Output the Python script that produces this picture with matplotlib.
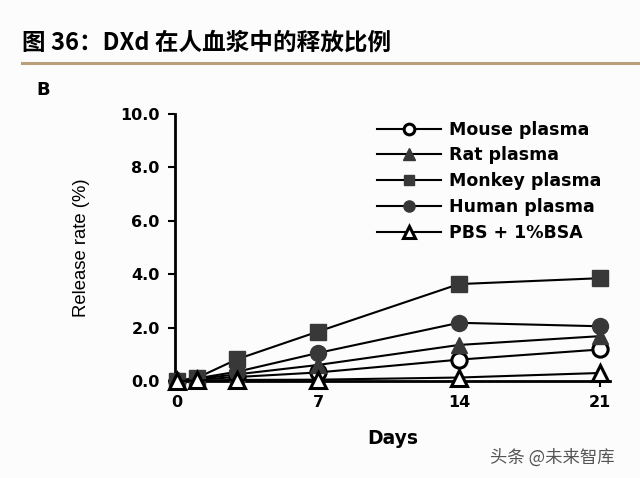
import matplotlib
matplotlib.use("Agg")
import matplotlib.pyplot as plt
from matplotlib.lines import Line2D

days = [0, 1, 3, 7, 14, 21]
mouse = [0.0, 0.05, 0.15, 0.32, 0.8, 1.18]
rat = [0.0, 0.08, 0.25, 0.6, 1.35, 1.68]
monkey = [0.0, 0.12, 0.82, 1.85, 3.63, 3.85]
human = [0.0, 0.1, 0.35, 1.05, 2.18, 2.05]
pbs = [0.0, 0.02, 0.04, 0.05, 0.13, 0.3]

labels = ["Mouse plasma", "Rat plasma", "Monkey plasma", "Human plasma", "PBS + 1%BSA"]
yticks = [0, 2, 4, 6, 8, 10]
xticks = [0, 7, 14, 21]

bg = "#fcfcfd"
fill = "#383838"
fig = plt.figure(figsize=(6.4, 4.78), dpi=100, facecolor=bg)

# header
fig.text(22 / 640, 1 - 43 / 478, "图 36：DXd 在人血浆中的释放比例", fontsize=17, fontweight="bold",
         family=["Noto Sans CJK SC", "DejaVu Sans"], va="center", ha="left")
fig.add_artist(Line2D([22 / 640, 1], [1 - 63 / 478, 1 - 63 / 478], color="#b8a07a", lw=2.2))
fig.text(36 / 640, 1 - 90 / 478, "B", fontsize=13, fontweight="bold", family="DejaVu Sans", va="center")
fig.text(490 / 640, 1 - 458 / 478, "头条 @未来智库", fontsize=12.5, color="#555555",
         family=["Noto Sans CJK SC", "DejaVu Sans"], va="center", ha="left")

ax = fig.add_axes([175 / 640, 97 / 478, 435 / 640, 267 / 478])
ax.set_facecolor(bg)

styles = [
    (mouse, "o", "white", 11),
    (rat, "^", fill, 12),
    (monkey, "s", fill, 11),
    (human, "o", fill, 11.5),
    (pbs, "^", "white", 12),
]
for (vals, mk, fc, ms), lab in zip(styles, labels):
    ax.plot(days, vals, color="black", lw=1.5, marker=mk, markersize=ms, markerfacecolor=fc,
            markeredgecolor="black" if fc == "white" else fill, markeredgewidth=2.2 if fc == "white" else 1,
            label=lab, clip_on=False, zorder=3)

ax.set_xlim(-0.1, 21.5)
ax.set_ylim(0, 10)
ax.set_yticks(yticks)
ax.set_yticklabels([f"{v:.1f}" for v in yticks])
ax.set_xticks(xticks)
for s in ["top", "right"]:
    ax.spines[s].set_visible(False)
ax.spines["left"].set_linewidth(2)
ax.spines["bottom"].set_linewidth(2)
ax.tick_params(axis="y", length=5, width=1.5, pad=6)
ax.tick_params(axis="x", length=4, width=1.5, pad=6)
for t in ax.get_xticklabels() + ax.get_yticklabels():
    t.set_fontfamily("DejaVu Sans")
    t.set_fontweight("bold")
    t.set_fontsize(11.5)

ax.set_xlabel("Days", fontsize=13.5, fontweight="bold", family="DejaVu Sans", labelpad=14)
ax.set_ylabel("Release rate (%)", fontsize=13.3, family="Liberation Sans", labelpad=22)

leg = ax.legend(loc="upper left", bbox_to_anchor=(361 / 640, 1 - 105 / 478), bbox_transform=fig.transFigure,
                frameon=False, handlelength=3.7, handletextpad=0.45, labelspacing=0.45,
                prop={"family": "DejaVu Sans", "weight": "bold", "size": 12.5}, markerscale=0.7)

fig.savefig("out.png", dpi=100, facecolor=bg)
